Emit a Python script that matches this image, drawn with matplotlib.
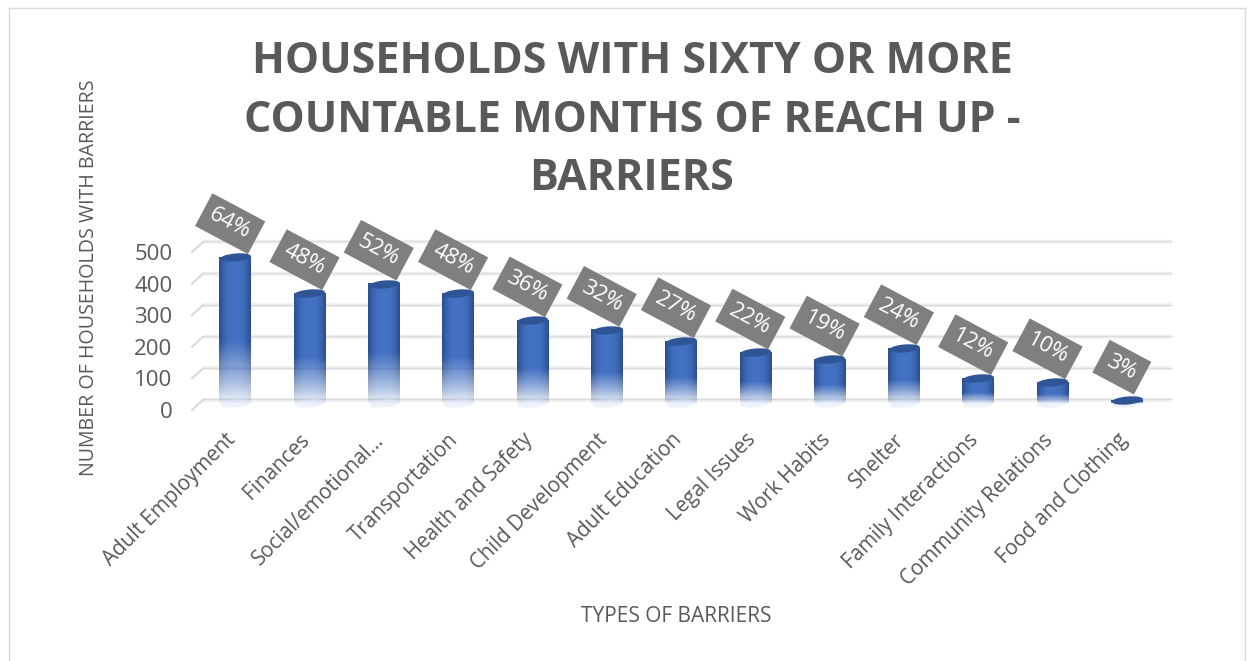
import numpy as np
import matplotlib
matplotlib.use('Agg')
import matplotlib.pyplot as plt
from matplotlib.path import Path
from matplotlib.transforms import Affine2D, ScaledTranslation

# data
categories = ['Adult Employment', 'Finances', 'Social/emotional…', 'Transportation',
              'Health and Safety', 'Child Development', 'Adult Education', 'Legal Issues',
              'Work Habits', 'Shelter', 'Family Interactions', 'Community Relations',
              'Food and Clothing']
households = [462, 348, 378, 348, 262, 232, 196, 160, 138, 174, 79, 66, 8]
percent = [64, 48, 52, 48, 36, 32, 27, 22, 19, 24, 12, 10, 3]
y_ticks = [0, 100, 200, 300, 400, 500]

W, H = 1254, 661
plt.rcParams['font.family'] = ['Open Sans', 'DejaVu Sans']
grey = '#595959'

fig = plt.figure(figsize=(W / 100, H / 100), dpi=100)
ax = fig.add_axes([192 / W, 1 - 410 / H, 980 / W, 158 / H])
for s in ax.spines.values():
    s.set_visible(False)

x = np.arange(len(categories))
bar_w = 0.42

# lantai & garis grid (digeser ke belakang, efek 3D)
rear_x = 11 / 980
rear_y = 10 / 0.316
tr = ax.get_yaxis_transform()
for v in y_ticks:
    ax.plot([rear_x, 1], [v + rear_y, v + rear_y], color='#f2f2f2', lw=3, transform=tr, zorder=1,
            solid_capstyle='butt', clip_on=False)
    ax.plot([rear_x, 1], [v + rear_y + 2, v + rear_y + 2], color='#dcdcdc', lw=1, transform=tr, zorder=1,
            solid_capstyle='butt', clip_on=False)
    ax.plot([0, rear_x], [v, v + rear_y], color='#d9d9d9', lw=1.5, transform=tr, zorder=1, clip_on=False)

# silinder: gradien horizontal + memudar ke bawah
bar_up = ScaledTranslation(0, 7 * 0.72 / 72, fig.dpi_scale_trans)
bar_tr = ax.transData + bar_up
ellipse = Path.unit_circle().transformed(Affine2D().scale(1, 0.26).rotate_deg(5))
edge = np.array([0x2a, 0x4f, 0x90]) / 255
mid = np.array([0x44, 0x72, 0xc4]) / 255
for xi, v, p in zip(x, households, percent):
    rows, cols = 60, 32
    u = np.linspace(-1, 1, cols)
    shade = np.abs(u)[None, :, None] ** 2.5
    rgb = mid + (edge - mid) * shade
    rgb = np.repeat(rgb, rows, axis=0)
    frac = np.linspace(1, 0, rows)  # 1 = atas, 0 = bawah
    alpha = np.clip(frac / 0.42, 0, 1) ** 0.8 * 0.93 + 0.07
    rgba = np.dstack([rgb, np.repeat(alpha[:, None], cols, axis=1)])
    ax.plot(xi, 0, marker=ellipse, ms=22.3, mfc='#eef3fb', mec='none', transform=bar_tr, zorder=2)
    ax.imshow(rgba, extent=[xi - bar_w / 2, xi + bar_w / 2, 0, v], aspect='auto',
              transform=bar_tr, zorder=3, clip_on=False, interpolation='bilinear')
    ax.plot(xi, v, marker=ellipse, ms=22.3, mfc='#2f5597', mec='none', transform=bar_tr, zorder=4, clip_on=False)
    ax.annotate(f'{p}%', (xi, v), xycoords=bar_tr,
                xytext=(-3.5, 24), textcoords='offset points', rotation=-28, rotation_mode='anchor',
                ha='center', va='center', color='white', fontsize=16, zorder=5,
                bbox=dict(boxstyle='square,pad=0.36', fc='#7f7f7f', ec='none'))

ax.set_xlim(-0.579, 12.61)
ax.set_ylim(0, 500)

ax.set_yticks(y_ticks)
ax.tick_params(axis='y', length=0, pad=14, labelsize=16, labelcolor=grey)
ax.set_xticks(x)
ax.set_xticklabels(categories, rotation=45, ha='right', va='top', rotation_mode='anchor',
                   fontsize=14.9, color=grey)
ax.tick_params(axis='x', length=0, pad=14)
shift = ScaledTranslation(-10 * 0.72 / 72, 0, fig.dpi_scale_trans)
for lab in ax.get_xticklabels():
    lab.set_transform(lab.get_transform() + shift)

fig.text(632 / W, 1 - 120 / H, 'HOUSEHOLDS WITH SIXTY OR MORE\nCOUNTABLE MONTHS OF REACH UP -\nBARRIERS',
         ha='center', va='center', fontsize=31, fontweight='bold', color=grey, linespacing=1.46)
fig.text(89 / W, 1 - 278 / H, 'NUMBER OF HOUSEHOLDS WITH BARRIERS', rotation=90,
         ha='center', va='center', fontsize=14.1, color=grey)
fig.text(676 / W, 1 - 617 / H, 'TYPES OF BARRIERS', ha='center', va='center', fontsize=15, color=grey)

# bingkai luar
frame = '#d9d9d9'
fig.add_artist(plt.Line2D([9 / W, 9 / W], [0, 1 - 8 / H], color=frame, lw=1))
fig.add_artist(plt.Line2D([9 / W, 1245 / W], [1 - 8 / H, 1 - 8 / H], color=frame, lw=1))
fig.add_artist(plt.Line2D([1245 / W, 1245 / W], [0, 1 - 8 / H], color=frame, lw=1))

fig.savefig('out.png', dpi=100)
